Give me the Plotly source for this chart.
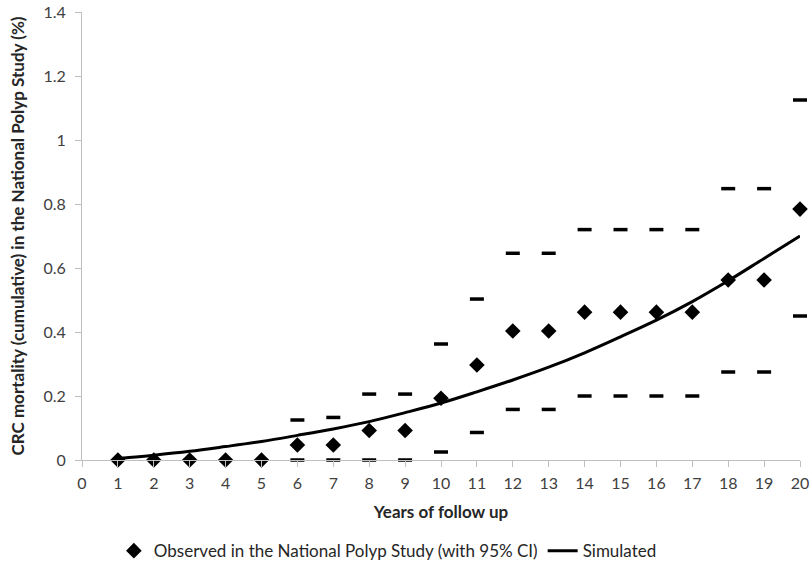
import plotly.graph_objects as go

years = list(range(1, 21))
observed = [0, 0, 0, 0, 0, 0.047, 0.047, 0.092, 0.092, 0.193, 0.297, 0.403, 0.403,
            0.462, 0.462, 0.462, 0.462, 0.5625, 0.5625, 0.784]
ci_years = list(range(6, 21))
ci_upper = [0.125, 0.133, 0.206, 0.206, 0.3625, 0.503, 0.646, 0.646, 0.72, 0.72,
            0.72, 0.72, 0.848, 0.848, 1.125]
ci_lower = [0, 0, 0, 0, 0.025, 0.086, 0.158, 0.158, 0.2, 0.2, 0.2, 0.2, 0.275, 0.275, 0.45]
simulated = [0.005, 0.015, 0.027, 0.042, 0.058, 0.077, 0.097, 0.12, 0.148, 0.178,
             0.213, 0.25, 0.29, 0.335, 0.385, 0.437, 0.495, 0.56, 0.63, 0.70]

FONT = "Lato"
fig = go.Figure()
for ys in (ci_upper, ci_lower):
    fig.add_trace(go.Scatter(
        x=ci_years, y=ys, mode="markers", showlegend=False, hoverinfo="skip",
        marker=dict(symbol="line-ew", size=10, line=dict(width=3.5, color="black")),
        cliponaxis=False,
    ))
fig.add_trace(go.Scatter(
    x=years, y=observed, mode="markers",
    name="Observed in the National Polyp Study (with 95% CI)",
    marker=dict(symbol="diamond", size=12, color="black"),
    cliponaxis=False,
))
fig.add_trace(go.Scatter(
    x=years, y=simulated, mode="lines", name="Simulated",
    line=dict(color="black", width=3, shape="spline"),
))

fig.update_layout(
    width=812, height=567,
    margin=dict(l=82, r=12, t=12, b=107),
    paper_bgcolor="white", plot_bgcolor="white",
    font=dict(family=FONT, size=16, color="#404040"),
    showlegend=True,
    legend=dict(orientation="h", x=0.426, xanchor="center", yref="container",
                y=0.028, yanchor="middle",
                font=dict(size=17, color="#262626"), itemwidth=30),
    xaxis=dict(
        range=[0, 20], tickmode="linear", tick0=0, dtick=1, automargin=False,
        showgrid=False, zeroline=False, showline=True, linecolor="#bfbfbf", linewidth=1,
        ticks="outside", ticklen=6, tickcolor="#bfbfbf", ticklabelstandoff=3,
        title=dict(text="<b>Years of follow up</b>", font=dict(size=17, color="#262626"), standoff=14),
    ),
    yaxis=dict(
        range=[0, 1.4], automargin=False,
        tickvals=[0, 0.2, 0.4, 0.6, 0.8, 1, 1.2, 1.4],
        ticktext=["0", "0.2", "0.4", "0.6", "0.8", "1", "1.2", "1.4"],
        showgrid=False, zeroline=False, showline=True, linecolor="#bfbfbf", linewidth=1,
        ticks="outside", ticklen=6, tickcolor="#bfbfbf", ticklabelstandoff=6,
        title=dict(text="<b>CRC mortality (cumulative) in the National Polyp Study (%)</b>",
                   font=dict(size=17, color="#262626"), standoff=14),
    ),
)
fig.write_html("out.html")
